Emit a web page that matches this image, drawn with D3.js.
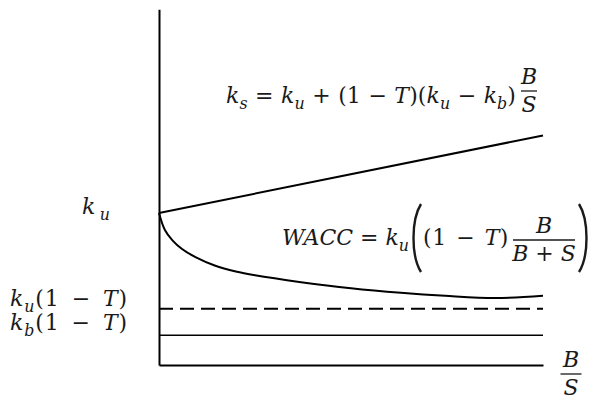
<!DOCTYPE html>
<html>
<head>
<meta charset="utf-8">
<script src="https://cdn.jsdelivr.net/npm/d3@7"></script>
<style>
  html, body { margin: 0; padding: 0; background: #fff; }
  svg { display: block; }
  text { font-family: "DejaVu Serif", serif; fill: #1a1a1a; }
</style>
</head>
<body>
<svg id="chart" width="590" height="413"></svg>
<script>
// Leverage ratio B/S along the horizontal axis
const leverage = [0, 0.15, 0.35, 0.6, 0.95, 1.45, 2, 2.5, 3.7, 5, 6.3, 7.45, 8.75, 10];
// Weighted average cost of capital at each leverage ratio
const wacc = [10, 8.9, 8.2, 7.63, 7.1, 6.55, 6.15, 5.9, 5.45, 5.05, 4.75, 4.55, 4.4, 4.55];
// Cost of equity: straight line from k_u
const ksLeverage = [0, 10];
const ksValues = [10, 15.1];
// Horizontal reference levels
const kuAfterTax = 3.7;   // k_u(1 - T)
const kbAfterTax = 1.95;  // k_b(1 - T)
const yAxisTop = 23.4;

const svg = d3.select("#chart");
const x = d3.scaleLinear().domain([0, 10]).range([159, 543]);
const y = d3.scaleLinear().domain([0, 10]).range([365, 213]);

// axes: plain lines, no ticks
const yAxisScale = d3.scaleLinear().domain([0, yAxisTop]).range([y(0), y(yAxisTop)]);
svg.append("g")
  .attr("transform", `translate(${x(0)},0)`)
  .call(d3.axisLeft(yAxisScale).tickValues([]).tickSizeOuter(0))
  .select(".domain").attr("stroke", "#000").attr("stroke-width", 2);
svg.append("g")
  .attr("transform", `translate(0,${y(0)})`)
  .call(d3.axisBottom(x).tickValues([]).tickSizeOuter(0))
  .select(".domain").attr("stroke", "#000").attr("stroke-width", 2);

// horizontal levels
svg.append("line")
  .attr("x1", x(0)).attr("x2", x(10))
  .attr("y1", y(kuAfterTax)).attr("y2", y(kuAfterTax))
  .attr("stroke", "#000").attr("stroke-width", 2)
  .attr("stroke-dasharray", "14 7");
svg.append("line")
  .attr("x1", x(0)).attr("x2", x(10))
  .attr("y1", y(kbAfterTax)).attr("y2", y(kbAfterTax))
  .attr("stroke", "#000").attr("stroke-width", 1.5);

// k_s line
const ksLine = d3.line().x(d => x(d[0])).y(d => y(d[1]));
svg.append("path")
  .datum(d3.zip(ksLeverage, ksValues))
  .attr("d", ksLine)
  .attr("fill", "none").attr("stroke", "#000").attr("stroke-width", 2);

// WACC curve
const waccLine = d3.line().x(d => x(d[0])).y(d => y(d[1])).curve(d3.curveCatmullRom.alpha(0.5));
svg.append("path")
  .datum(d3.zip(leverage, wacc))
  .attr("d", waccLine)
  .attr("fill", "none").attr("stroke", "#000").attr("stroke-width", 2);

// ---- math typesetting helpers ----
// parts: [text, kind] where kind is "i" italic, "r" roman, "s" italic subscript
// width: optional run width; extra room is shared between glyph gaps and operator spaces
function mathRun(px, py, parts, size, width) {
  const t = svg.append("text").attr("x", px).attr("y", py).attr("font-size", size);
  let down = false;
  parts.forEach(([s, kind]) => {
    const sp = t.append("tspan").text(s);
    if (kind === "s") {
      sp.attr("font-style", "italic").attr("font-size", size * 0.72);
      if (!down) { sp.attr("dy", size * 0.28); down = true; }
    } else {
      if (down) { sp.attr("dy", -size * 0.28); down = false; }
      if (kind === "i") sp.attr("font-style", "italic");
    }
  });
  if (width) {
    const text = parts.map(p => p[0]).join("");
    const spaces = (text.match(/ /g) || []).length;
    const natural = t.node().getComputedTextLength();
    const extra = Math.max(0, width - natural);
    if (spaces > 0) {
      const share = extra * 0.5;
      t.attr("letter-spacing", share / text.length);
      t.style("word-spacing", ((extra - share) / spaces) + "px");
    } else {
      t.attr("letter-spacing", extra / Math.max(1, text.length - 1));
    }
  }
  return t;
}
function fraction(cx, barY, num, den, size, barW, denW) {
  mathRun(cx, barY - size * 0.3, num, size).attr("text-anchor", "middle");
  const bot = mathRun(cx, barY + size * 0.95, den, size, denW);
  bot.attr("text-anchor", "middle");
  svg.append("line")
    .attr("x1", cx - barW / 2).attr("x2", cx + barW / 2)
    .attr("y1", barY).attr("y2", barY)
    .attr("stroke", "#1a1a1a").attr("stroke-width", 1.3);
}
function bigParen(px, y0, y1, left) {
  const dir = left ? -1 : 1;
  const bulge = 10;
  svg.append("path")
    .attr("d", `M${px},${y0} C${px + dir * bulge},${y0 + 16} ${px + dir * bulge},${y1 - 16} ${px},${y1}`)
    .attr("fill", "none").attr("stroke", "#1a1a1a").attr("stroke-width", 2.4);
}

const FS = 22;
const M = "\u2212";

// k_s formula
mathRun(226, 103, [["k", "i"], ["s", "s"], [" = ", "r"], ["k", "i"], ["u", "s"], [" + (1 " + M + " ", "r"], ["T", "i"], [")(", "r"],
  ["k", "i"], ["u", "s"], [" " + M + " ", "r"], ["k", "i"], ["b", "s"], [")", "r"]], FS, 290);
fraction(529, 91, [["B", "i"]], [["S", "i"]], FS, 16);

// WACC formula
mathRun(282, 245, [["WACC", "i"], [" = ", "r"], ["k", "i"], ["u", "s"]], FS, 124);
bigParen(421, 204, 272, true);
mathRun(423, 245, [["(1 " + M + " ", "r"], ["T", "i"], [")", "r"]], FS, 86);
fraction(544, 240, [["B", "i"]], [["B + S", "i"]], FS, 62, 58);
bigParen(579, 204, 272, false);

// level labels on the left
mathRun(82, 214, [["k", "i"], ["u", "s"]], FS, 28);
mathRun(10, 306, [["k", "i"], ["u", "s"], ["(1 " + M + " ", "r"], ["T", "i"], [")", "r"]], FS, 118);
mathRun(10, 330, [["k", "i"], ["b", "s"], ["(1 " + M + " ", "r"], ["T", "i"], [")", "r"]], FS, 118);

// horizontal axis label
fraction(571, 374, [["B", "i"]], [["S", "i"]], 22, 21);
</script>
</body>
</html>
